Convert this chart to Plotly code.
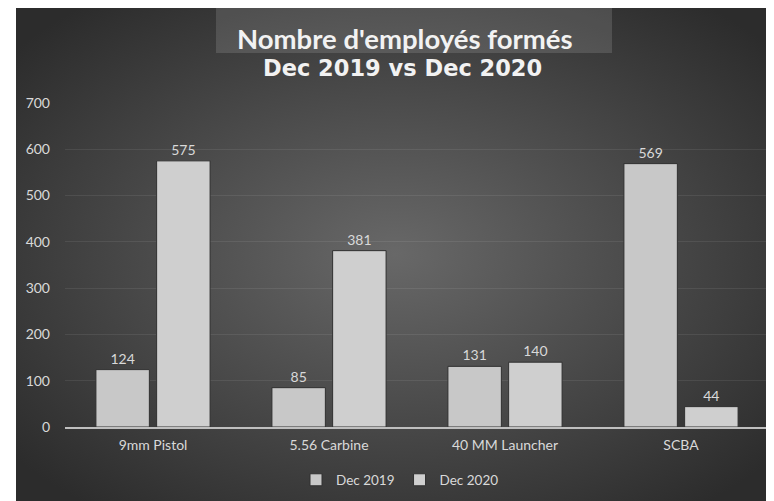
import base64
import plotly.graph_objects as go

categories = ["9mm Pistol", "5.56 Carbine", "40 MM Launcher", "SCBA"]
dec_2019 = [124, 85, 131, 569]
dec_2020 = [575, 381, 140, 44]
series_names = ["Dec 2019", "Dec 2020"]
title_line1 = "Nombre d'employés formés"
title_line2 = "Dec 2019 vs Dec 2020"
y_ticks = [0, 100, 200, 300, 400, 500, 600, 700]

OFF = 8  # page body offset
W, H = 774 - OFF, 501 - OFF
ML, MR, MT, MB = 65 - OFF, 5, 103 - OFF, 74
PW = W - ML - MR
PH = H - MT - MB


def px_x(px):
    return (px - OFF - ML) / PW


def px_y(py):
    return (H - MB - (py - OFF)) / PH


svg = """<svg xmlns='http://www.w3.org/2000/svg' width='758' height='494' preserveAspectRatio='none'>
<defs><radialGradient id='g' cx='50%' cy='50%' r='65%'>
<stop offset='0%' stop-color='#686868'/>
<stop offset='100%' stop-color='#2c2c2c'/>
</radialGradient></defs>
<rect width='758' height='494' fill='url(#g)'/></svg>"""
bg_uri = "data:image/svg+xml;base64," + base64.b64encode(svg.encode()).decode()

label_font = dict(family="Lato, Open Sans, sans-serif", size=14, color="#d9d9d9")

fig = go.Figure()
colors = ["#c8c8c8", "#cfcfcf"]
for name, vals, col in zip(series_names, [dec_2019, dec_2020], colors):
    fig.add_trace(go.Bar(
        x=categories, y=vals, name=name,
        marker=dict(color=col, line=dict(color="#303030", width=1)),
        text=[str(v) for v in vals], textposition="outside",
        textfont=label_font, cliponaxis=False,
    ))

fig.update_layout(
    width=W, height=H,
    margin=dict(l=ML, r=MR, t=MT, b=MB),
    paper_bgcolor="white",
    plot_bgcolor="rgba(0,0,0,0)",
    barmode="group", bargap=0.31, bargroupgap=0.12,
    showlegend=True,
    legend=dict(orientation="h", x=px_x(400), xanchor="center",
                y=px_y(480), yanchor="middle",
                font=dict(family="Lato, Open Sans, sans-serif", size=13.5, color="#d9d9d9"),
                bgcolor="rgba(0,0,0,0)", itemwidth=30, traceorder="normal"),
    xaxis=dict(showgrid=False, showline=True, linecolor="#bfbfbf", linewidth=1.5,
               tickfont=label_font, ticks="", ticklabelstandoff=4),
    yaxis=dict(range=[0, 700], tickvals=y_ticks, showgrid=True,
               gridcolor="rgba(255,255,255,0.08)", gridwidth=1, zeroline=False,
               showline=False, tickfont=label_font, ticks="", ticklabelstandoff=14),
    images=[dict(source=bg_uri, xref="paper", yref="paper",
                 x=px_x(16), y=px_y(7), sizex=px_x(774) - px_x(16),
                 sizey=px_y(7) - px_y(501), xanchor="left", yanchor="top",
                 sizing="stretch", layer="below")],
    shapes=[dict(type="rect", xref="paper", yref="paper",
                 x0=px_x(216), x1=px_x(612), y0=px_y(53), y1=px_y(7),
                 fillcolor="rgba(255,255,255,0.13)", line=dict(width=0), layer="below")],
    annotations=[
        dict(text="<b>" + title_line1 + "</b>", xref="paper", yref="paper",
             x=px_x(405), y=px_y(38), xanchor="center", yanchor="middle",
             showarrow=False,
             font=dict(family="Lato, Open Sans, sans-serif", size=27.5, color="#f2f2f2")),
        dict(text="<b>" + title_line2 + "</b>", xref="paper", yref="paper",
             x=px_x(402), y=px_y(68), xanchor="center", yanchor="middle",
             showarrow=False,
             font=dict(family="DejaVu Sans, Verdana, sans-serif", size=22.5, color="#f2f2f2")),
    ],
)

fig.write_html("out.html")
